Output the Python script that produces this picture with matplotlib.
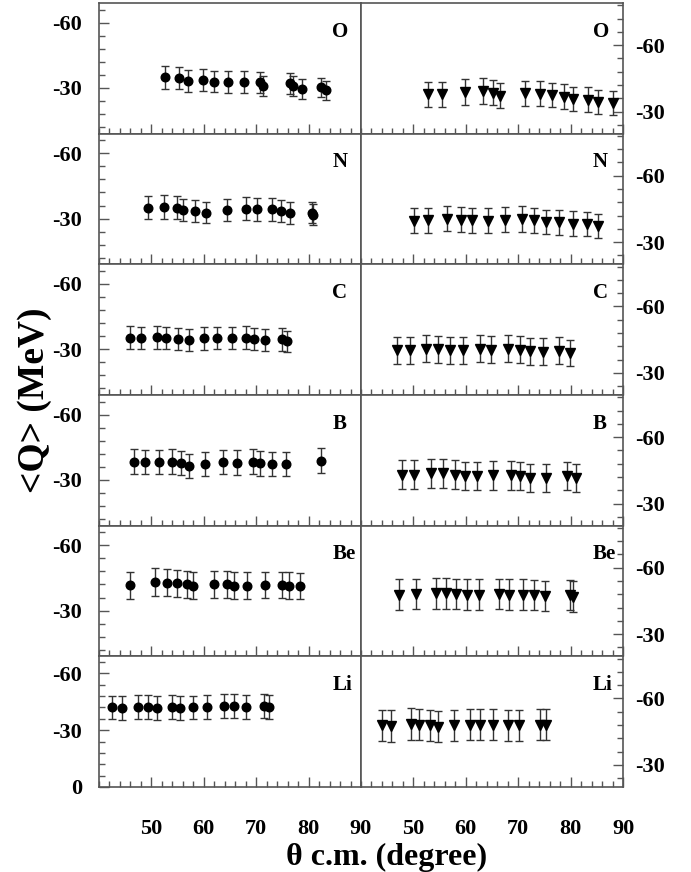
import numpy as np
import matplotlib
matplotlib.use("Agg")
import matplotlib.pyplot as plt
from matplotlib.ticker import MultipleLocator

plt.rcParams['font.family'] = ['Liberation Serif', 'DejaVu Serif']
plt.rcParams['font.weight'] = 'bold'

#============= données =====================================

elements = ["O", "N", "C", "B", "Be", "Li"]

# colonne de gauche (cercles)
th_O_g = [52.6, 55.3, 56.9, 59.9, 61.9, 64.7, 67.6, 70.7, 71.3, 76.5, 77.0, 78.8, 82.4, 83.3]
q_O_g = [-34.8, -34.6, -33.3, -33.6, -32.9, -32.7, -32.7, -32.7, -30.8, -32.2, -30.8, -29.7, -30.2, -29.0]
e_O_g = [5.2, 5.2, 5.0, 5.0, 4.9, 4.9, 4.9, 4.8, 4.7, 4.8, 4.7, 4.6, 4.5, 4.4]

th_N_g = [49.4, 52.4, 54.8, 56.1, 58.3, 60.4, 64.5, 68.0, 70.2, 73.1, 74.8, 76.4, 80.6, 80.9]
q_N_g = [-34.9, -35.4, -34.9, -33.9, -33.5, -32.8, -34.0, -34.6, -34.2, -34.2, -33.5, -32.5, -32.8, -31.7]
e_N_g = [5.3, 5.4, 5.3, 5.2, 5.1, 5.0, 5.2, 5.2, 5.2, 5.1, 5.0, 5.0, 4.9, 4.8]

th_C_g = [46.0, 48.0, 51.0, 52.8, 55.0, 57.2, 60.1, 62.5, 65.4, 68.0, 69.6, 71.7, 74.9, 75.9]
q_C_g = [-35.4, -35.2, -35.6, -35.1, -34.8, -34.3, -35.0, -35.1, -35.1, -35.4, -34.7, -34.1, -34.5, -33.6]
e_C_g = [5.2, 5.2, 5.3, 5.2, 5.1, 5.1, 5.2, 5.2, 5.2, 5.2, 5.1, 5.0, 5.1, 5.0]

th_B_g = [46.7, 48.8, 51.5, 54.0, 55.6, 57.1, 60.2, 63.7, 66.4, 69.3, 70.7, 73.1, 75.7, 82.4]
q_B_g = [-38.4, -38.2, -38.2, -38.3, -37.8, -36.6, -37.4, -38.2, -38.0, -38.3, -37.6, -37.4, -37.4, -38.9]
e_B_g = [5.7, 5.7, 5.7, 5.7, 5.6, 5.5, 5.6, 5.7, 5.6, 5.7, 5.6, 5.5, 5.5, 5.8]

th_Be_g = [46.0, 50.7, 52.9, 54.8, 56.7, 58.0, 61.9, 64.4, 65.7, 68.2, 71.7, 74.9, 76.2, 78.4]
q_Be_g = [-41.6, -43.1, -42.8, -42.6, -42.2, -41.4, -42.2, -42.2, -41.4, -41.4, -41.7, -41.7, -41.4, -41.1]
e_Be_g = [6.2, 6.3, 6.3, 6.2, 6.2, 6.1, 6.2, 6.2, 6.1, 6.1, 6.1, 6.1, 6.1, 6.0]

th_Li_g = [42.4, 44.3, 47.5, 49.3, 51.0, 53.9, 55.4, 57.9, 60.7, 63.9, 65.8, 68.0, 71.5, 72.5]
q_Li_g = [-42.0, -41.8, -42.4, -42.2, -41.8, -42.2, -41.8, -42.0, -42.2, -42.7, -42.6, -42.2, -42.7, -42.4]
e_Li_g = [6.3, 6.3, 6.3, 6.3, 6.3, 6.3, 6.3, 6.3, 6.3, 6.4, 6.4, 6.3, 6.4, 6.3]

# colonne de droite (triangles)
th_O_d = [52.7, 55.4, 59.8, 63.3, 65.1, 66.5, 71.3, 74.2, 76.4, 78.7, 80.4, 83.4, 85.3, 88.0]
q_O_d = [-37.8, -37.8, -38.8, -39.3, -38.5, -37.2, -38.2, -38.1, -37.5, -36.7, -35.7, -35.4, -34.5, -34.0]
e_O_d = [5.7, 5.7, 5.8, 5.8, 5.7, 5.6, 5.7, 5.7, 5.6, 5.6, 5.5, 5.5, 5.4, 5.4]

th_N_d = [50.1, 52.7, 56.5, 59.0, 61.1, 64.3, 67.5, 70.7, 73.0, 75.3, 77.8, 80.5, 83.1, 85.2]
q_N_d = [-39.7, -39.9, -40.6, -40.2, -39.9, -39.7, -40.2, -40.5, -39.9, -39.1, -39.0, -38.4, -38.2, -37.5]
e_N_d = [5.6, 5.6, 5.7, 5.7, 5.6, 5.6, 5.7, 5.7, 5.6, 5.6, 5.6, 5.5, 5.5, 5.4]

th_C_d = [46.8, 49.4, 52.4, 54.6, 57.0, 59.5, 62.7, 64.8, 68.1, 70.3, 72.3, 74.7, 77.8, 79.9]
q_C_d = [-40.2, -40.2, -40.9, -40.6, -40.3, -40.2, -40.8, -40.5, -40.8, -40.5, -39.7, -39.6, -40.0, -39.1]
e_C_d = [6.1, 6.1, 6.2, 6.1, 6.1, 6.1, 6.1, 6.1, 6.1, 6.1, 6.0, 6.0, 6.0, 5.9]

th_B_d = [47.8, 50.1, 53.3, 55.7, 57.9, 59.8, 62.2, 65.1, 68.6, 70.3, 72.3, 75.3, 79.3, 81.0]
q_B_d = [-43.1, -43.1, -43.6, -43.6, -43.1, -42.4, -42.4, -42.7, -42.8, -42.4, -41.6, -41.6, -42.4, -41.6]
e_B_d = [6.6, 6.6, 6.7, 6.7, 6.6, 6.5, 6.5, 6.5, 6.6, 6.5, 6.4, 6.4, 6.5, 6.4]

th_Be_d = [47.3, 50.5, 54.3, 56.2, 58.1, 60.2, 62.6, 66.4, 68.3, 70.9, 73.0, 75.1, 79.8, 80.5]
q_Be_d = [-47.8, -48.1, -48.5, -48.4, -48.1, -47.8, -47.8, -48.1, -47.8, -47.8, -47.5, -47.3, -47.5, -47.0]
e_Be_d = [6.9, 6.9, 7.0, 6.9, 6.9, 6.9, 6.9, 6.9, 6.9, 6.9, 6.8, 6.8, 6.8, 6.8]

th_Li_d = [44.0, 45.7, 49.5, 51.1, 53.2, 54.6, 57.7, 60.8, 62.8, 65.2, 68.1, 70.2, 74.2, 75.4]
q_Li_d = [-47.8, -47.5, -48.5, -48.2, -47.8, -47.3, -47.8, -48.1, -48.1, -48.1, -47.8, -47.8, -48.2, -48.2]
e_Li_d = [7.1, 7.1, 7.2, 7.1, 7.1, 7.0, 7.1, 7.1, 7.1, 7.1, 7.1, 7.1, 7.1, 7.1]

gauche = [(th_O_g, q_O_g, e_O_g), (th_N_g, q_N_g, e_N_g), (th_C_g, q_C_g, e_C_g),
          (th_B_g, q_B_g, e_B_g), (th_Be_g, q_Be_g, e_Be_g), (th_Li_g, q_Li_g, e_Li_g)]
droite = [(th_O_d, q_O_d, e_O_d), (th_N_d, q_N_d, e_N_d), (th_C_d, q_C_d, e_C_d),
          (th_B_d, q_B_d, e_B_d), (th_Be_d, q_Be_d, e_Be_d), (th_Li_d, q_Li_d, e_Li_d)]

xticks = [50, 60, 70, 80, 90]

#============= figure ==================

W, H = 691, 872
fig = plt.figure(figsize=(W / 100, H / 100), dpi=100)

x0, xm, x1 = 99, 361, 623
top, bot = 3, 787
hrow = (bot - top) / 6
gris = '#555555'
fs = 16


def style(ax):
    for s in ax.spines.values():
        s.set_color(gris)
        s.set_linewidth(1.2)
    ax.set_xlim(40, 90)
    ax.xaxis.set_major_locator(plt.FixedLocator(xticks))
    ax.xaxis.set_minor_locator(MultipleLocator(2))
    ax.yaxis.set_major_locator(MultipleLocator(30))
    ax.yaxis.set_minor_locator(MultipleLocator(6))
    ax.tick_params(which='both', direction='in', color=gris, width=1,
                   labelsize=fs, top=False)
    ax.tick_params(which='major', length=7)
    ax.tick_params(which='minor', length=4)


for i in range(6):
    yb = 1 - (top + (i + 1) * hrow) / H
    hh = hrow / H

    # gauche
    axg = fig.add_axes([x0 / W, yb, (xm - x0) / W, hh])
    th, q, e = gauche[i]
    axg.errorbar(th, q, yerr=e, fmt='o', color='k', ms=6.2, ecolor='#333333',
                 elinewidth=1, capsize=2.8, capthick=1)
    if i == 5:
        axg.set_ylim(0, -69)
        yt = [0, -30, -60]
    else:
        axg.set_ylim(-9, -69)
        yt = [-30, -60]
    style(axg)
    axg.tick_params(axis='y', left=True, right=False, labelleft=True, pad=12)
    axg.set_yticks(yt)
    axg.set_yticklabels([str(v) for v in yt], fontweight='bold', fontsize=fs)
    axg.text(0.89, 0.78, elements[i], transform=axg.transAxes, ha='left', va='center',
             fontsize=15, fontweight='bold')

    # droite
    axd = fig.add_axes([xm / W, yb, (x1 - xm) / W, hh])
    th, q, e = droite[i]
    axd.errorbar(th, q, yerr=e, fmt='v', color='k', ms=6.5, ecolor='#333333',
                 elinewidth=1, capsize=2.8, capthick=1)
    axd.set_ylim(-20, -79)
    style(axd)
    axd.yaxis.tick_right()
    axd.tick_params(axis='y', which='both', left=False, right=True, labelleft=False,
                    labelright=True, pad=9)
    axd.set_yticks([-30, -60])
    axd.set_yticklabels(['-30', '-60'], fontweight='bold', fontsize=fs)
    axd.text(0.885, 0.78, elements[i], transform=axd.transAxes, ha='left', va='center',
             fontsize=15, fontweight='bold')

    for ax in (axg, axd):
        if i < 5:
            ax.tick_params(axis='x', labelbottom=False)
        else:
            ax.set_xticklabels([str(t) for t in xticks], fontweight='bold', fontsize=fs)
            ax.tick_params(axis='x', pad=23)

fig.text(0.05, 1 - 400 / H, "<Q> (MeV)", rotation=90, ha='center', va='center',
         fontsize=27, fontweight='bold')
fig.text(387 / W, 1 - 857 / H, "θ c.m. (degree)", ha='center', va='center',
         fontsize=23, fontweight='bold')

fig.savefig("out.png", dpi=100)
